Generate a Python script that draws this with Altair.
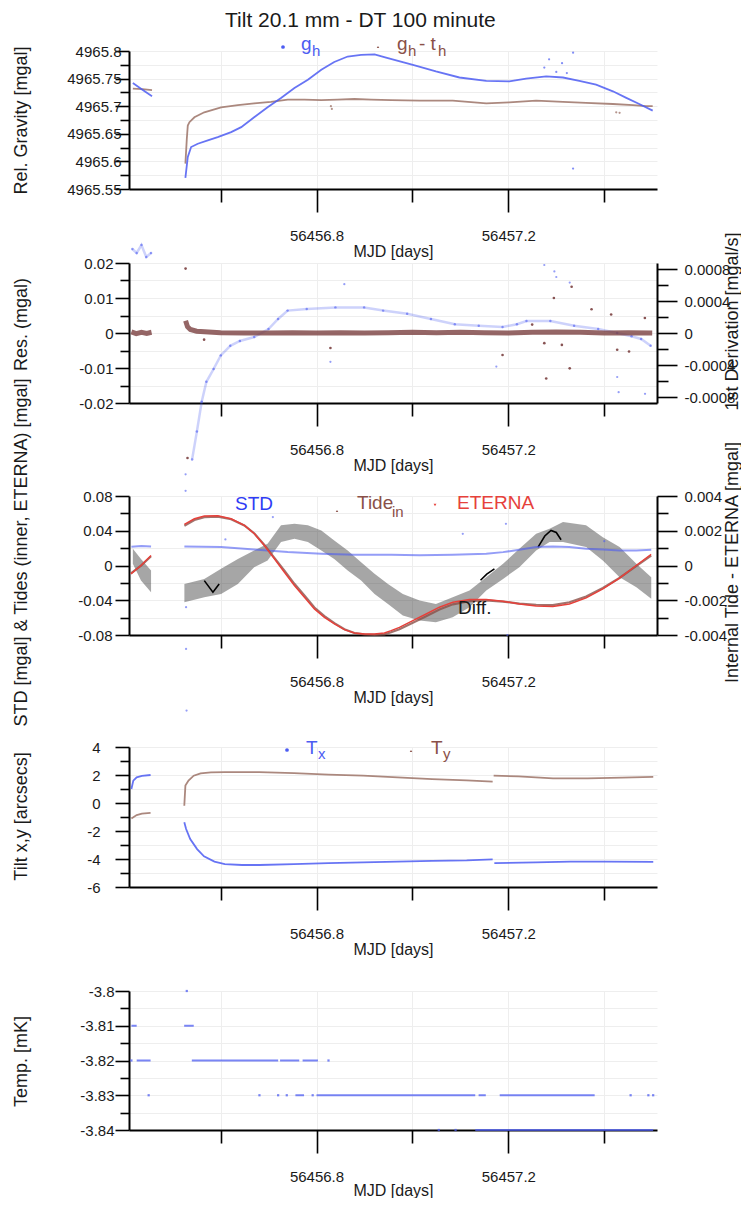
import altair as alt
import pandas as pd

FONT = "Liberation Sans, Arial, sans-serif"
BLUE = "#4c5cf2"
LBROWN = "#a27b70"
DBROWN = "#7b4040"
TIDEBROWN = "#8a5048"
RED = "#e6413b"
INK = "#1a1a1a"
MINUS = "\u2212"

W = 528
X_DOMAIN = [56456.409, 56457.510]
X_TICKS = [56456.6, 56456.8, 56457.0, 56457.2, 56457.4]
X_LABELED = [56456.8, 56457.2]

# ---------------- panel 1 : relative gravity ----------------
G_TICKS = [4965.55, 4965.575, 4965.6, 4965.625, 4965.65, 4965.675, 4965.7, 4965.725, 4965.75, 4965.775, 4965.8]
G_LABELED = [4965.55, 4965.6, 4965.65, 4965.7, 4965.75, 4965.8]
GH_SEG = [1, 1, 1] + [2] * 33
GH_MJD = [56456.417, 56456.437, 56456.457,
          56456.5266, 56456.5316, 56456.5385, 56456.5525, 56456.5733, 56456.594, 56456.622, 56456.643,
          56456.670, 56456.698, 56456.726, 56456.754, 56456.782, 56456.810, 56456.837, 56456.865,
          56456.893, 56456.921, 56456.945, 56457.001, 56457.049, 56457.098, 56457.154, 56457.202,
          56457.237, 56457.279, 56457.314, 56457.348, 56457.383, 56457.418, 56457.446, 56457.473, 56457.501]
GH_VAL = [4965.742, 4965.730, 4965.718,
          4965.570, 4965.608, 4965.626, 4965.632, 4965.638, 4965.644, 4965.653, 4965.662,
          4965.680, 4965.698, 4965.715, 4965.733, 4965.748, 4965.766, 4965.780, 4965.790,
          4965.793, 4965.794, 4965.788, 4965.775, 4965.763, 4965.752, 4965.746, 4965.745,
          4965.750, 4965.754, 4965.752, 4965.746, 4965.739, 4965.727, 4965.715, 4965.704, 4965.692]
GH_OUT_MJD = [56457.275, 56457.285, 56457.300, 56457.312, 56457.322, 56457.335, 56457.335]
GH_OUT_VAL = [4965.770, 4965.785, 4965.762, 4965.778, 4965.760, 4965.797, 4965.587]
GB_SEG = [1, 1, 1] + [2] * 28
GB_MJD = [56456.417, 56456.437, 56456.457,
          56456.5266, 56456.5295, 56456.5316, 56456.535, 56456.5454, 56456.566, 56456.601, 56456.636,
          56456.670, 56456.705, 56456.740, 56456.775, 56456.810, 56456.844, 56456.879, 56456.914,
          56456.956, 56457.015, 56457.084, 56457.154, 56457.202, 56457.258, 56457.314, 56457.362,
          56457.418, 56457.460, 56457.487, 56457.501]
GB_VAL = [4965.732, 4965.731, 4965.729,
          4965.596, 4965.640, 4965.665, 4965.671, 4965.680, 4965.689, 4965.698, 4965.702,
          4965.705, 4965.708, 4965.712, 4965.712, 4965.711, 4965.712, 4965.713, 4965.712,
          4965.711, 4965.710, 4965.710, 4965.705, 4965.707, 4965.710, 4965.708, 4965.706,
          4965.704, 4965.702, 4965.700, 4965.700]
GB_OUT_MJD = [56457.425, 56457.432, 56456.830, 56456.832]
GB_OUT_VAL = [4965.689, 4965.688, 4965.700, 4965.695]

# ---------------- panel 2 : residual + 1st derivation ----------------
R_TICKS = [-0.02, -0.015, -0.01, -0.005, 0.0, 0.005, 0.01, 0.015, 0.02]
R_LABELED = [-0.02, -0.01, 0.0, 0.01, 0.02]
D_TICKS = [-0.0008, -0.0006, -0.0004, -0.0002, 0.0, 0.0002, 0.0004, 0.0006, 0.0008]
D_LABELED = [-0.0008, -0.0004, 0.0, 0.0004, 0.0008]
RES_SEG = [1] * 5 + [2] * 23
RES_MJD = [56456.414, 56456.424, 56456.435, 56456.446, 56456.456,
           56456.527, 56456.531, 56456.537, 56456.550, 56456.600, 56456.650, 56456.700, 56456.750,
           56456.800, 56456.850, 56456.900, 56456.950, 56457.000, 56457.050, 56457.100, 56457.150,
           56457.200, 56457.250, 56457.300, 56457.350, 56457.400, 56457.450, 56457.500]
RES_VAL = [0.0003, -0.0002, 0.0002, -0.0001, 0.0002,
           0.0035, 0.0018, 0.0010, 0.0005, 0.0001, 0.0, 0.0, 0.0001,
           0.0, 0.0001, 0.0, 0.0001, 0.0002, 0.0001, 0.0002, 0.0001,
           0.0, 0.0002, 0.0003, 0.0002, 0.0, 0.0001, 0.0]
RES_OUT_MJD = [56456.527, 56456.531, 56456.5656, 56456.829, 56457.1879, 56457.2497, 56457.275, 56457.279,
               56457.295, 56457.3116, 56457.328, 56457.332, 56457.3735, 56457.4144, 56457.427, 56457.4517, 56457.4847]
RES_OUT_VAL = [0.0184, -0.0357, -0.0019, -0.0043, -0.0063, 0.0024, -0.0029, -0.0130,
               0.0100, -0.0034, -0.0101, 0.0132, 0.0068, 0.0053, -0.0048, -0.0053, 0.0043]
DV_SEG = [1] * 5 + [2] * 30
DV_MJD = [56456.416, 56456.425, 56456.435, 56456.445, 56456.455,
          56456.5406, 56456.5506, 56456.5606, 56456.5704, 56456.5854, 56456.6004, 56456.6202, 56456.6402,
          56456.6701, 56456.6999, 56456.7199, 56456.7397, 56456.7796, 56456.8394, 56456.8993, 56456.9389,
          56456.9890, 56457.0386, 56457.0884, 56457.1383, 56457.1879, 56457.2179, 56457.2378, 56457.2876,
          56457.3372, 56457.3873, 56457.4269, 56457.4569, 56457.4769, 56457.4968]
DV_VAL = [0.00105, 0.00100, 0.00110, 0.00095, 0.00100,
          -0.00158, -0.00123, -0.00086, -0.00061, -0.00045, -0.00028, -0.00016, -0.00010,
          -0.00005, 0.00005, 0.000175, 0.00028, 0.00030, 0.00032, 0.00032, 0.00028,
          0.00024, 0.000175, 0.00011, 0.00009, 0.000075, 0.00011, 0.00015, 0.00015,
          0.00009, 0.00005, 0.0, -0.00004, -0.000075, -0.00016]
DV_OUT_MJD = [56456.829, 56456.858, 56457.175, 56457.275, 56457.296, 56457.300, 56457.328, 56457.427, 56457.430, 56457.485]
DV_OUT_VAL = [-0.00036, 0.00061, -0.00042, 0.00085, 0.00077, 0.00070, 0.00063, -0.00055, -0.00074, -0.00076]

# ---------------- panel 3 : STD, tides, difference ----------------
S_TICKS = [-0.08, -0.06, -0.04, -0.02, 0.0, 0.02, 0.04, 0.06, 0.08]
S_LABELED = [-0.08, -0.04, 0.0, 0.04, 0.08]
DF_TICKS = [-0.004, -0.003, -0.002, -0.001, 0.0, 0.001, 0.002, 0.003, 0.004]
DF_LABELED = [-0.004, -0.002, 0.0, 0.002, 0.004]
STD_SEG = [1] * 3 + [2] * 20
STD_MJD = [56456.414, 56456.435, 56456.455,
           56456.5245, 56456.601, 56456.670, 56456.740, 56456.810, 56456.879, 56456.956, 56457.015,
           56457.084, 56457.154, 56457.189, 56457.223, 56457.258, 56457.293, 56457.327, 56457.362,
           56457.397, 56457.432, 56457.467, 56457.498]
STD_VAL = [0.0215, 0.0225, 0.0220,
           0.0219, 0.0212, 0.0185, 0.0154, 0.0135, 0.0123, 0.0123, 0.0119,
           0.0123, 0.0135, 0.0154, 0.0181, 0.0212, 0.0219, 0.0212, 0.0192,
           0.0185, 0.0173, 0.0173, 0.0181]
STD_OUT_MJD = [56456.527, 56456.527, 56456.528, 56456.528, 56456.529, 56456.610, 56456.709, 56457.105, 56457.195, 56457.198, 56457.400]
STD_OUT_VAL = [0.105, 0.086, -0.048, -0.096, -0.167, 0.030, 0.0558, 0.0365, 0.048, -0.080, 0.028]
ET_SEG = [1] * 3 + [2] * 38
ET_MJD = [56456.413, 56456.434, 56456.455,
          56456.5245, 56456.5454, 56456.5662, 56456.5942, 56456.6219, 56456.6496, 56456.6705, 56456.6913,
          56456.7122, 56456.7331, 56456.7539, 56456.7748, 56456.7956, 56456.8165, 56456.8373, 56456.8582,
          56456.8790, 56456.8999, 56456.9207, 56456.9416, 56456.9556, 56456.9729, 56457.0008, 56457.0286,
          56457.0563, 56457.0843, 56457.1189, 56457.1537, 56457.1885, 56457.2232, 56457.2580, 56457.2928,
          56457.3274, 56457.3623, 56457.3971, 56457.4317, 56457.4665, 56457.4978]
ET_VAL = [-0.0096, 0.0000, 0.0115,
          0.0473, 0.0538, 0.0569, 0.0573, 0.0538, 0.0462, 0.0365, 0.0231,
          0.0077, -0.0077, -0.0231, -0.0365, -0.0500, -0.0596, -0.0673, -0.0738,
          -0.0777, -0.0788, -0.0788, -0.0777, -0.0750, -0.0712, -0.0635, -0.0558,
          -0.0480, -0.0423, -0.0392, -0.0392, -0.0412, -0.0442, -0.0465, -0.0473,
          -0.0442, -0.0373, -0.0269, -0.0146, 0.0000, 0.0127]
TIDE_VAL = [-0.0091, -0.0002, 0.0106,
            0.0457, 0.0523, 0.0556, 0.0563, 0.0532, 0.0461, 0.0369, 0.0237,
            0.0088, -0.0059, -0.0211, -0.0346, -0.0483, -0.0582, -0.0664, -0.0734,
            -0.0777, -0.0792, -0.0798, -0.0792, -0.0768, -0.0733, -0.0660, -0.0585,
            -0.0507, -0.0447, -0.0411, -0.0402, -0.0415, -0.0438, -0.0452, -0.0456,
            -0.0423, -0.0356, -0.0259, -0.0144, -0.0006, 0.0114]
DIFF_SEG = [1] * 3 + [2] * 31
DIFF_MJD = [56456.417, 56456.434, 56456.455,
            56456.5245, 56456.566, 56456.601, 56456.636, 56456.670, 56456.698, 56456.726, 56456.754,
            56456.782, 56456.810, 56456.837, 56456.865, 56456.893, 56456.921, 56456.949, 56456.980,
            56457.015, 56457.049, 56457.084, 56457.119, 56457.154, 56457.189, 56457.223, 56457.258,
            56457.286, 56457.314, 56457.362, 56457.397, 56457.432, 56457.467, 56457.498]
DIFF_HI = [0.00096, 0.00038, -0.00029,
           -0.00106, -0.00077, -0.00019, 0.00038, 0.00087, 0.00125, 0.00231, 0.00240,
           0.00231, 0.00202, 0.00144, 0.00087, 0.00019, -0.00048, -0.00106, -0.00164,
           -0.00202, -0.00221, -0.00183, -0.00144, -0.00067, 0.00010, 0.00096, 0.00183,
           0.00212, 0.00250, 0.00231, 0.00163, 0.00106, 0.00010, -0.00067]
DIFF_LO = [0.00010, -0.00087, -0.00154,
           -0.00212, -0.00183, -0.00164, -0.00106, -0.00010, 0.00029, 0.00135, 0.00154,
           0.00135, 0.00087, 0.00038, -0.00029, -0.00087, -0.00164, -0.00221, -0.00288,
           -0.00317, -0.00327, -0.00298, -0.00240, -0.00144, -0.00077, -0.00010, 0.00087,
           0.00135, 0.00135, 0.00106, 0.00029, -0.00067, -0.00125, -0.00192]
DIFF_LINE_SEG = [1, 1, 1, 2, 2, 2, 3, 3, 3, 3, 3]
DIFF_LINE_MJD = [56456.566, 56456.584, 56456.597, 56457.142, 56457.155, 56457.171,
                 56457.262, 56457.276, 56457.289, 56457.300, 56457.310]
DIFF_LINE_VAL = [-0.00087, -0.00154, -0.00106, -0.00085, -0.00050, -0.00019,
                 0.00106, 0.00170, 0.00202, 0.00190, 0.00148]
DIFF_LABEL_MJD = [56457.095]
DIFF_LABEL_VAL = [-0.049]

# ---------------- panel 4 : tilt ----------------
T_TICKS = [-6, -5, -4, -3, -2, -1, 0, 1, 2, 3, 4]
T_LABELED = [-6, -4, -2, 0, 2, 4]
TX_SEG = [1] * 5 + [2] * 16 + [3] * 5
TX_MJD = [56456.414, 56456.418, 56456.425, 56456.436, 56456.454,
          56456.5243, 56456.5281, 56456.5366, 56456.5510, 56456.5654, 56456.5871, 56456.6088, 56456.6446,
          56456.6807, 56456.7529, 56456.8248, 56456.8970, 56456.9689, 56457.0411, 56457.1130, 56457.1673,
          56457.1708, 56457.2573, 56457.3293, 56457.4015, 56457.5022]
TX_VAL = [1.00, 1.60, 1.83, 1.93, 2.00,
          -1.38, -1.86, -2.57, -3.29, -3.81, -4.19, -4.36, -4.43,
          -4.43, -4.36, -4.29, -4.24, -4.19, -4.14, -4.10, -4.02,
          -4.29, -4.24, -4.19, -4.19, -4.21]
TY_SEG = [1] * 4 + [2] * 15 + [3] * 6
TY_MJD = [56456.414, 56456.425, 56456.436, 56456.454,
          56456.5243, 56456.5266, 56456.5331, 56456.5439, 56456.5583, 56456.5798, 56456.6088, 56456.6807,
          56456.7529, 56456.8248, 56456.8970, 56456.9689, 56457.0411, 56457.1130, 56457.1673,
          56457.1694, 56457.2213, 56457.2932, 56457.3654, 56457.4373, 56457.5022]
TY_VAL = [-1.10, -0.86, -0.76, -0.71,
          -0.20, 1.24, 1.60, 1.95, 2.12, 2.19, 2.21, 2.21,
          2.14, 2.02, 1.95, 1.83, 1.71, 1.62, 1.52,
          1.95, 1.90, 1.76, 1.76, 1.81, 1.86]

# ---------------- panel 5 : temperature ----------------
K_TICKS = [-3.84, -3.835, -3.83, -3.825, -3.82, -3.815, -3.81, -3.805, -3.8]
K_LABELED = [-3.84, -3.83, -3.82, -3.81, -3.8]
TEMP_SEG_START = [56456.414, 56456.524, 56456.425, 56456.540, 56456.724, 56456.771, 56456.756,
                  56456.800, 56457.138, 56457.182, 56457.131]
TEMP_SEG_END = [56456.425, 56456.544, 56456.454, 56456.720, 56456.764, 56456.803, 56456.774,
                56457.131, 56457.153, 56457.380, 56457.502]
TEMP_SEG_LEVEL = [-3.81, -3.81, -3.82, -3.82, -3.82, -3.82, -3.83, -3.83, -3.83, -3.83, -3.84]
TEMP_DOT_MJD = [56456.5295, 56456.414, 56456.825, 56456.450, 56456.681, 56456.720, 56456.738,
                56456.792, 56457.455, 56457.492, 56457.502, 56457.055, 56457.090]
TEMP_DOT_LEVEL = [-3.80, -3.82, -3.82, -3.83, -3.83, -3.83, -3.83, -3.83, -3.83, -3.83, -3.83, -3.84, -3.84]

TITLE = "Tilt 20.1 mm - DT 100 minute"

ONE = pd.DataFrame({"k": [0]})


def cond_expr(vals, eps):
    return " || ".join(f"abs(datum.value - ({v})) < {eps}" for v in vals)


def x_axis(title_y=62):
    c = cond_expr(X_LABELED, 0.01)
    return alt.Axis(values=X_TICKS, format=".1f", labelExpr=f"({c}) ? datum.label : ''",
                    tickSize={"condition": {"test": c, "value": 23}, "value": 13},
                    labelPadding=16, labelOverlap=False, labelFlush=False,
                    title="MJD [days]", titleY=title_y, titleBaseline="middle",
                    titleFontSize=16, grid=True)


def y_axis(ticks, labeled, eps, fmt, title, orient="left", title_x=-108, title_y=70,
           label_pad=0, major=14, minor=9, grid=True):
    c = cond_expr(labeled, eps)
    return alt.Axis(values=ticks, format=fmt, orient=orient,
                    labelExpr=f"({c}) ? replace(datum.label, '{MINUS}', '-') : ''",
                    tickSize={"condition": {"test": c, "value": major}, "value": minor},
                    labelPadding=label_pad, labelOverlap=False, labelFlush=False,
                    title=title, titleX=title_x, titleY=title_y, titleAngle=270,
                    titleBaseline="middle", titleAlign="center", grid=grid)


def txt(s, x, y, size, color):
    return alt.Chart(ONE).mark_text(text=s, align="left", baseline="alphabetic", font=FONT,
                                    fontSize=size, color=color).encode(x=alt.value(x), y=alt.value(y))


def sym(shape, x, y, size, color):
    return alt.Chart(ONE).mark_point(shape=shape, filled=True, size=size, color=color,
                                     opacity=1).encode(x=alt.value(x), y=alt.value(y))


XS = alt.Scale(domain=X_DOMAIN, nice=False, zero=False)
XA = x_axis()
XA_LAST = x_axis(title_y=60)


def X(field="mjd", axis=XA):
    return alt.X(f"{field}:Q", scale=XS, axis=axis)


# ---- panel 1
ys1 = alt.Scale(domain=[4965.55, 4965.8], nice=False, zero=False)
ya1 = y_axis(G_TICKS, G_LABELED, 0.005, ".2~f", "Rel. Gravity [mgal]", title_y=69, label_pad=-6)


def Y1(f="val"):
    return alt.Y(f"{f}:Q", scale=ys1, axis=ya1)


gh = pd.DataFrame({"mjd": GH_MJD, "val": GH_VAL, "seg": GH_SEG})
gb = pd.DataFrame({"mjd": GB_MJD, "val": GB_VAL, "seg": GB_SEG})
gho = pd.DataFrame({"mjd": GH_OUT_MJD, "val": GH_OUT_VAL})
gbo = pd.DataFrame({"mjd": GB_OUT_MJD, "val": GB_OUT_VAL})
p1 = alt.layer(
    alt.Chart(gb).mark_line(color=LBROWN, strokeWidth=1.8, opacity=0.9).encode(x=X(), y=Y1(), detail="seg:N"),
    alt.Chart(gh).mark_line(color=BLUE, strokeWidth=1.8, opacity=0.85).encode(x=X(), y=Y1(), detail="seg:N"),
    alt.Chart(gho).mark_circle(color=BLUE, size=5, opacity=0.7).encode(x=X(), y=Y1()),
    alt.Chart(gbo).mark_circle(color=LBROWN, size=5, opacity=0.8).encode(x=X(), y=Y1()),
    txt(TITLE, 96, -24, 21, INK),
    sym("circle", 154, -4, 14, BLUE),
    txt("g", 172, -1, 19, BLUE),
    txt("h", 183, 5, 15, BLUE),
    sym("triangle-up", 249, -4, 6, TIDEBROWN),
    txt("g", 268, -1, 19, TIDEBROWN),
    txt("h", 279, 5, 15, TIDEBROWN),
    txt("- t", 290, -1, 19, TIDEBROWN),
    txt("h", 309, 5, 15, TIDEBROWN),
).properties(width=W, height=138)

# ---- panel 2
ys2 = alt.Scale(domain=[-0.02, 0.02], nice=False, zero=False)
ya2 = y_axis(R_TICKS, R_LABELED, 0.001, ".2~f", "Res. (mgal)", title_y=61, label_pad=2)
ys2r = alt.Scale(domain=[-0.000875, 0.000875], nice=False, zero=False)
ya2r = y_axis(D_TICKS, D_LABELED, 0.00005, ".4~f", "1st Derivation [mgal/s]", orient="right",
              title_x=75, title_y=58, label_pad=7, major=20, minor=11, grid=False)
res = pd.DataFrame({"mjd": RES_MJD, "val": RES_VAL, "seg": RES_SEG})
reso = pd.DataFrame({"mjd": RES_OUT_MJD, "val": RES_OUT_VAL})
dv = pd.DataFrame({"mjd": DV_MJD, "val": DV_VAL, "seg": DV_SEG})
dvo = pd.DataFrame({"mjd": DV_OUT_MJD, "val": DV_OUT_VAL})
p2_right = alt.layer(
    alt.Chart(dv).mark_line(color=BLUE, strokeWidth=2.5, opacity=0.28).encode(
        x=X(), y=alt.Y("val:Q", scale=ys2r, axis=ya2r), detail="seg:N"),
    alt.Chart(dv).mark_circle(color=BLUE, size=6, opacity=0.6).encode(
        x=X(), y=alt.Y("val:Q", scale=ys2r, axis=ya2r)),
    alt.Chart(dvo).mark_circle(color=BLUE, size=5, opacity=0.6).encode(
        x=X(), y=alt.Y("val:Q", scale=ys2r, axis=ya2r)),
)
p2_left = alt.layer(
    alt.Chart(res).mark_line(color=DBROWN, strokeWidth=5, opacity=0.8).encode(
        x=X(), y=alt.Y("val:Q", scale=ys2, axis=ya2), detail="seg:N"),
    alt.Chart(reso).mark_circle(color=DBROWN, size=7, opacity=0.9).encode(
        x=X(), y=alt.Y("val:Q", scale=ys2, axis=ya2)),
)
p2 = alt.layer(p2_right, p2_left).resolve_scale(y="independent").properties(width=W, height=140)

# ---- panel 3
ys3 = alt.Scale(domain=[-0.08, 0.08], nice=False, zero=False)
ya3 = y_axis(S_TICKS, S_LABELED, 0.005, ".2~f", "STD [mgal] & Tides (inner, ETERNA) [mgal]",
             title_y=56, label_pad=3)
ys3r = alt.Scale(domain=[-0.004, 0.004], nice=False, zero=False)
ya3r = y_axis(DF_TICKS, DF_LABELED, 0.0002, ".3~f", "Internal Tide - ETERNA [mgal]", orient="right",
              title_x=75, title_y=66, label_pad=7, major=20, minor=11, grid=False)
std = pd.DataFrame({"mjd": STD_MJD, "val": STD_VAL, "seg": STD_SEG})
stdo = pd.DataFrame({"mjd": STD_OUT_MJD, "val": STD_OUT_VAL})
et = pd.DataFrame({"mjd": ET_MJD, "val": ET_VAL, "seg": ET_SEG})
tide = pd.DataFrame({"mjd": ET_MJD, "val": TIDE_VAL, "seg": ET_SEG})
dif = pd.DataFrame({"mjd": DIFF_MJD, "lo": DIFF_LO, "hi": DIFF_HI, "seg": DIFF_SEG})
difl = pd.DataFrame({"mjd": DIFF_LINE_MJD, "val": DIFF_LINE_VAL, "seg": DIFF_LINE_SEG})
dlab = pd.DataFrame({"mjd": DIFF_LABEL_MJD, "val": DIFF_LABEL_VAL})
p3_right = alt.layer(
    alt.Chart(dif).mark_area(color="#2a2a2a", opacity=0.42).encode(
        x=X(), y=alt.Y("lo:Q", scale=ys3r, axis=ya3r), y2="hi:Q", detail="seg:N"),
    alt.Chart(difl).mark_line(color="#000000", strokeWidth=1.6).encode(
        x=X(), y=alt.Y("val:Q", scale=ys3r, axis=ya3r), detail="seg:N"),
)
p3_left = alt.layer(
    alt.Chart(std).mark_line(color=BLUE, strokeWidth=2, opacity=0.6).encode(
        x=X(), y=alt.Y("val:Q", scale=ys3, axis=ya3), detail="seg:N"),
    alt.Chart(stdo).mark_circle(color=BLUE, size=5, opacity=0.6).encode(
        x=X(), y=alt.Y("val:Q", scale=ys3, axis=ya3)),
    alt.Chart(tide).mark_line(color=TIDEBROWN, strokeWidth=2.2, opacity=0.8).encode(
        x=X(), y=alt.Y("val:Q", scale=ys3, axis=ya3), detail="seg:N"),
    alt.Chart(et).mark_line(color=RED, strokeWidth=1.5).encode(
        x=X(), y=alt.Y("val:Q", scale=ys3, axis=ya3), detail="seg:N"),
    alt.Chart(dlab).mark_text(text="Diff.", align="left", baseline="middle", font=FONT,
                              fontSize=19, color=INK).encode(
        x=X(), y=alt.Y("val:Q", scale=ys3, axis=ya3)),
    txt("STD", 106, 14, 19, "#2f3cf5"),
    sym("triangle-up", 208, 15, 6, TIDEBROWN),
    txt("Tide", 228, 13, 19, TIDEBROWN),
    txt("in", 263, 21, 15, TIDEBROWN),
    sym("triangle-down", 306, 9, 8, RED),
    txt("ETERNA", 328, 13, 19, RED),
)
p3 = alt.layer(p3_right, p3_left).resolve_scale(y="independent").properties(width=W, height=139)

# ---- panel 4
ys4 = alt.Scale(domain=[-6, 4], nice=False, zero=False)
ya4 = y_axis(T_TICKS, T_LABELED, 0.2, "d", "Tilt x,y [arcsecs]", title_y=69, label_pad=15)
tx = pd.DataFrame({"mjd": TX_MJD, "val": TX_VAL, "seg": TX_SEG})
ty = pd.DataFrame({"mjd": TY_MJD, "val": TY_VAL, "seg": TY_SEG})
p4 = alt.layer(
    alt.Chart(ty).mark_line(color=LBROWN, strokeWidth=1.8, opacity=0.9).encode(
        x=X(), y=alt.Y("val:Q", scale=ys4, axis=ya4), detail="seg:N"),
    alt.Chart(tx).mark_line(color=BLUE, strokeWidth=1.8, opacity=0.85).encode(
        x=X(), y=alt.Y("val:Q", scale=ys4, axis=ya4), detail="seg:N"),
    sym("circle", 158, 3, 14, BLUE),
    txt("T", 177, 7, 19, BLUE),
    txt("x", 189, 12, 15, BLUE),
    sym("triangle-up", 282, 4, 6, TIDEBROWN),
    txt("T", 302, 7, 19, TIDEBROWN),
    txt("y", 314, 12, 15, TIDEBROWN),
).properties(width=W, height=140)

# ---- panel 5
ys5 = alt.Scale(domain=[-3.84, -3.8], nice=False, zero=False)
ya5 = y_axis(K_TICKS, K_LABELED, 0.001, ".2~f", "Temp. [mK]", title_y=70, label_pad=1)
tseg = pd.DataFrame({"x0": TEMP_SEG_START, "x1": TEMP_SEG_END, "lvl": TEMP_SEG_LEVEL})
tdot = pd.DataFrame({"mjd": TEMP_DOT_MJD, "lvl": TEMP_DOT_LEVEL})
p5 = alt.layer(
    alt.Chart(tseg).mark_rule(color=BLUE, strokeWidth=2, opacity=0.75).encode(
        x=X("x0", XA_LAST), x2="x1:Q", y=alt.Y("lvl:Q", scale=ys5, axis=ya5)),
    alt.Chart(tdot).mark_square(color=BLUE, size=5, opacity=0.75).encode(
        x=X("mjd", XA_LAST), y=alt.Y("lvl:Q", scale=ys5, axis=ya5)),
).properties(width=W, height=139)


def spacer(h):
    return alt.Chart(ONE).mark_point(opacity=0).properties(width=W, height=h)


chart = alt.vconcat(
    p1, spacer(74), p2, spacer(93), p3, spacer(112), p4, spacer(104), p5,
    spacing=0, bounds="flush"
).properties(
    padding={"left": 3, "top": 2, "right": 0, "bottom": 0}
).configure_view(
    stroke=None
).configure_axis(
    labelFont=FONT, labelFontSize=15, labelColor=INK,
    titleFont=FONT, titleFontSize=18, titleFontWeight="normal", titleColor=INK,
    domainColor="#000000", domainWidth=2, tickColor="#000000", tickWidth=1.6,
    gridColor="#eeeeee", gridWidth=1
)

chart.save("out.html", embed_options={"renderer": "svg", "actions": False})
